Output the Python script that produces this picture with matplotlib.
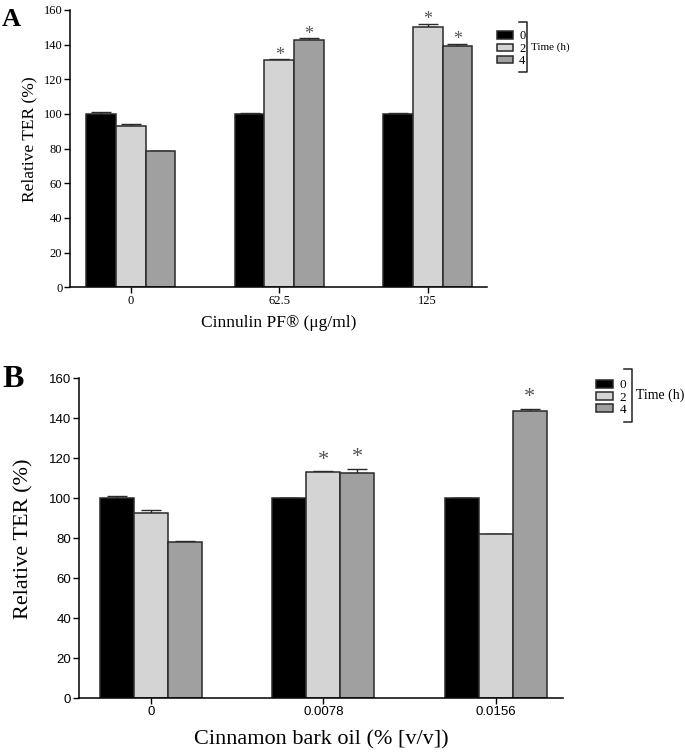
import numpy as np
import matplotlib.pyplot as plt
from matplotlib.lines import Line2D

# time points (h) and bar colours
times = ['0', '2', '4']
colors = ['#000000', '#d4d4d4', '#a0a0a0']

# panel A: Cinnulin PF
doses_a = ['0', '62.5', '125']
vals_a = [[100.0, 100.0, 100.0],    # 0 h
          [93.0, 131.0, 150.3],     # 2 h
          [78.6, 142.6, 139.4]]     # 4 h
errs_a = [[1.0, 0.5, 0.5],
          [1.0, 0.5, 1.5],
          [0.3, 1.0, 1.0]]
star_a = [[False, False, False],
          [False, True, True],
          [False, True, True]]

# panel B: cinnamon bark oil
doses_b = ['0', '0.0078', '0.0156']
vals_b = [[100.0, 100.0, 100.0],
          [92.8, 113.2, 82.3],
          [78.4, 112.6, 143.6]]
errs_b = [[1.0, 0.4, 0.3],
          [1.3, 0.3, 0.0],
          [0.4, 2.2, 1.3]]
star_b = [[False, False, False],
          [False, True, False],
          [False, True, True]]

serif = 'Liberation Serif'
narrow = ['Liberation Sans Narrow', 'DejaVu Sans Condensed', 'Liberation Sans']

fig = plt.figure(figsize=(6.85, 7.56), dpi=100)
ax_a = fig.add_axes([0.1022, 0.620, 0.609, 0.3668])
ax_b = fig.add_axes([0.1153, 0.0763, 0.7066, 0.4233])


def draw_panel(ax, doses, vals, errs, stars, width, xlim, tick_font, tick_size, lab_size,
               xlabel, star_size, star_off):
    x = np.arange(len(doses))
    for i in range(len(times)):
        pos = x + (i - 1) * width
        ax.bar(pos, vals[i], width, color=colors[i], edgecolor='#2a2a2a', linewidth=1.1,
               label=times[i], zorder=2)
        ax.errorbar(pos, vals[i], yerr=[np.zeros(len(doses)), errs[i]], fmt='none',
                    ecolor='#2a2a2a', elinewidth=1.0, capsize=7, capthick=1.0, zorder=1)
        for j in range(len(doses)):
            if stars[i][j]:
                ax.annotate('*', (pos[j], vals[i][j] + errs[i][j]), xytext=(0, star_off),
                            textcoords='offset points', ha='center', va='bottom',
                            fontsize=star_size, color='#555555', family=serif)
    ax.set_xlim(*xlim)
    ax.set_ylim(0, 160)
    ax.set_yticks(np.arange(0, 161, 20))
    ax.set_xticks(x)
    ax.set_xticklabels(doses)
    for lab in ax.get_xticklabels() + ax.get_yticklabels():
        lab.set_family(tick_font)
        lab.set_fontsize(tick_size)
    ax.spines['top'].set_visible(False)
    ax.spines['right'].set_visible(False)
    ax.spines['left'].set_linewidth(1.1)
    ax.spines['bottom'].set_linewidth(1.1)
    ax.tick_params(axis='both', direction='out', length=4, width=1.0, pad=1.5)
    ax.set_ylabel('Relative TER (%)', family=serif, fontsize=lab_size)
    ax.set_xlabel(xlabel, family=serif, fontsize=lab_size)


draw_panel(ax_a, doses_a, vals_a, errs_a, star_a, 0.2, (-0.41, 2.40), serif, 9,
           12.5, 'Cinnulin PF® (μg/ml)', 13, -3)
ax_a.yaxis.set_label_coords(-0.079, 0.535)
ax_a.xaxis.set_label_coords(0.5, -0.1)

draw_panel(ax_b, doses_b, vals_b, errs_b, star_b, 0.197, (-0.417, 2.39), narrow, 9.5,
           16, 'Cinnamon bark oil (% [v/v])', 16, 1)
ax_b.yaxis.set_label_coords(-0.095, 0.5)
ax_b.xaxis.set_label_coords(0.5, -0.1)

# panel letters
fig.text(0.003, 0.99, 'A', family=serif, fontweight='bold', fontsize=19, va='top')
fig.text(0.003, 0.517, 'B', family=serif, fontweight='bold', fontsize=23, va='top')

# legends with bracket and "Time (h)"
for ax, anchor, fs, bx, by0, by1, tsize in [
        (ax_a, (0.716, 0.968), 9, 0.769, 0.905, 0.971, 8),
        (ax_b, (0.860, 0.507), 9.5, 0.923, 0.442, 0.512, 10)]:
    ax.legend(loc='upper left', bbox_to_anchor=anchor, bbox_transform=fig.transFigure,
              frameon=False, handlelength=1.3, handleheight=0.55, labelspacing=0.02,
              handletextpad=0.5, borderpad=0, prop={'family': serif, 'size': fs})
    fig.add_artist(Line2D([bx - 0.012, bx, bx, bx - 0.012], [by1, by1, by0, by0],
                          transform=fig.transFigure, color='#222222', linewidth=1.1))
    fig.text(bx + 0.006, (by0 + by1) / 2, 'Time (h)', family=serif, fontsize=tsize, va='center')

fig.savefig('out.png', dpi=100)
